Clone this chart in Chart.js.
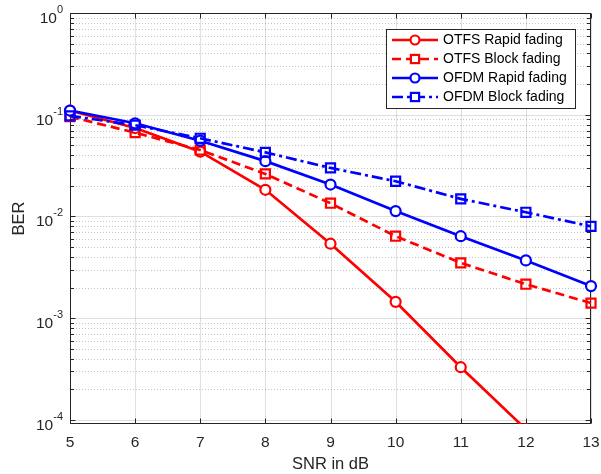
<!DOCTYPE html>
<html><head><meta charset="utf-8">
<script src="https://cdn.jsdelivr.net/npm/chart.js@4"></script>
<style>html,body{margin:0;padding:0;background:#fff}canvas{display:block}</style>
</head><body>
<canvas id="c" width="601" height="474"></canvas>
<script>
// ---- data ----
const snr = [5, 6, 7, 8, 9, 10, 11, 12, 13];
const otfsRapid = [0.110, 0.074, 0.0434, 0.0183, 0.0054, 0.00145, 0.00033, 0.000081];
const otfsBlock = [0.0957, 0.0667, 0.045, 0.0262, 0.0135, 0.0064, 0.0035, 0.00216, 0.00141];
const ofdmRapid = [0.110, 0.0824, 0.0556, 0.035, 0.0206, 0.0113, 0.0064, 0.0037, 0.00207];
const ofdmBlock = [0.0975, 0.079, 0.0587, 0.0427, 0.030, 0.0222, 0.0149, 0.011, 0.0080];
const seriesNames = ['OTFS Rapid fading', 'OTFS Block fading', 'OFDM Rapid fading', 'OFDM Block fading'];
const xTickValues = [5, 6, 7, 8, 9, 10, 11, 12, 13];
const yDecadeExponents = [0, -1, -2, -3, -4];
const xTitle = 'SNR in dB';
const yTitle = 'BER';

const RED = '#ff0000', BLUE = '#0000ff';
const toPts = arr => arr.map((v, i) => ({x: snr[i], y: v}));

const styles = [
  {color: RED, dash: [], point: 'circle', r: 5, fill: '#ffffff', order: 4},
  {color: RED, dash: [9, 5], point: 'rect', r: 6.4, fill: 'rgba(0,0,0,0)', order: 3},
  {color: BLUE, dash: [], point: 'circle', r: 5, fill: '#ffffff', order: 2},
  {color: BLUE, dash: [11, 4, 3, 4], point: 'rect', r: 6.4, fill: 'rgba(0,0,0,0)', order: 1}
];
const seriesData = [otfsRapid, otfsBlock, ofdmRapid, ofdmBlock];

const datasets = seriesData.map((arr, k) => ({
  label: seriesNames[k],
  data: toPts(arr),
  borderColor: styles[k].color,
  backgroundColor: styles[k].color,
  borderWidth: 2.7,
  borderDash: styles[k].dash,
  pointStyle: styles[k].point,
  pointRadius: styles[k].r,
  pointBorderWidth: 2.2,
  pointBorderColor: styles[k].color,
  pointBackgroundColor: styles[k].fill,
  tension: 0,
  order: styles[k].order,
  clip: {left: 12, right: 12, top: 12, bottom: k === 0 ? 0 : 12}
}));

const AX = '#262626';
const FONT = '"Liberation Sans", Arial, Helvetica, sans-serif';

const matlabAxes = {
  id: 'matlabAxes',
  beforeDatasetsDraw(chart) {
    const {ctx, chartArea: a, scales: {x, y}} = chart;
    ctx.save();
    ctx.lineWidth = 1;
    ctx.strokeStyle = 'rgba(38,38,38,0.15)';
    ctx.setLineDash([]);
    xTickValues.forEach(v => {
      const px = Math.round(x.getPixelForValue(v)) + 0.5;
      ctx.beginPath(); ctx.moveTo(px, a.top); ctx.lineTo(px, a.bottom); ctx.stroke();
    });
    ctx.strokeStyle = 'rgba(38,38,38,0.28)';
    ctx.setLineDash([1, 2]);
    yDecadeExponents.forEach(e => {
      for (let m = 2; m <= 9; m++) {
        const v = m * Math.pow(10, e);
        if (v > y.max || v < y.min) continue;
        const py = Math.round(y.getPixelForValue(v)) + 0.5;
        ctx.beginPath(); ctx.moveTo(a.left, py); ctx.lineTo(a.right, py); ctx.stroke();
      }
    });
    ctx.setLineDash([]);
    ctx.strokeStyle = 'rgba(38,38,38,0.15)';
    yDecadeExponents.forEach(e => {
      const py = Math.round(y.getPixelForValue(Math.pow(10, e))) + 0.5;
      ctx.beginPath(); ctx.moveTo(a.left, py); ctx.lineTo(a.right, py); ctx.stroke();
    });
    ctx.strokeStyle = AX;
    ctx.lineWidth = 1;
    const L = Math.round(a.left) + 0.5, R = Math.round(a.right) - 0.5;
    const T = Math.round(a.top) + 0.5, B = Math.round(a.bottom) - 0.5;
    ctx.strokeRect(L, T, R - L, B - T);
    xTickValues.forEach(v => {
      const px = Math.round(x.getPixelForValue(v)) + 0.5;
      ctx.beginPath();
      ctx.moveTo(px, B); ctx.lineTo(px, B - 5);
      ctx.moveTo(px, T); ctx.lineTo(px, T + 5);
      ctx.stroke();
    });
    yDecadeExponents.forEach(e => {
      for (let m = 1; m <= 9; m++) {
        const v = m * Math.pow(10, e);
        if (v > y.max || v < y.min) continue;
        const len = m === 1 ? 5 : 3.5;
        const py = Math.round(y.getPixelForValue(v)) + 0.5;
        ctx.beginPath();
        ctx.moveTo(L, py); ctx.lineTo(L + len, py);
        ctx.moveTo(R, py); ctx.lineTo(R - len, py);
        ctx.stroke();
      }
    });
    ctx.restore();
  },
  afterDatasetsDraw(chart) {
    const {ctx, chartArea: a, scales: {x, y}} = chart;
    ctx.save();
    ctx.fillStyle = AX;
    ctx.font = '15.5px ' + FONT;
    ctx.textAlign = 'center';
    ctx.textBaseline = 'middle';
    xTickValues.forEach(v => {
      ctx.fillText(String(v), x.getPixelForValue(v), a.bottom + 19);
    });
    yDecadeExponents.forEach(e => {
      const py = y.getPixelForValue(Math.pow(10, e));
      ctx.font = '11px ' + FONT;
      const sup = String(e);
      const sw = ctx.measureText(sup).width;
      const right = a.left - 7;
      ctx.textAlign = 'left';
      ctx.textBaseline = 'alphabetic';
      ctx.fillText(sup, right - sw, py + 0);
      ctx.font = '15.5px ' + FONT;
      const bw = ctx.measureText('10').width;
      ctx.fillText('10', right - sw - bw, py + 10);
    });
    ctx.font = '16.5px ' + FONT;
    ctx.textAlign = 'center';
    ctx.textBaseline = 'middle';
    ctx.fillText(xTitle, (a.left + a.right) / 2, a.bottom + 40);
    ctx.save();
    ctx.translate(19, (a.top + a.bottom) / 2);
    ctx.rotate(-Math.PI / 2);
    ctx.fillText(yTitle, 0, 0);
    ctx.restore();

    // legend
    const bx = 386.5, by = 29.5, bw2 = 189, bh = 79;
    ctx.fillStyle = '#ffffff';
    ctx.fillRect(bx, by, bw2, bh);
    ctx.strokeStyle = AX;
    ctx.lineWidth = 1;
    ctx.strokeRect(bx, by, bw2, bh);
    chart.data.datasets.forEach((ds, k) => {
      const cy = 40 + k * 19;
      ctx.strokeStyle = ds.borderColor;
      ctx.lineWidth = 2.7;
      ctx.setLineDash(ds.borderDash);
      ctx.beginPath(); ctx.moveTo(392, cy); ctx.lineTo(438, cy); ctx.stroke();
      ctx.setLineDash([]);
      ctx.lineWidth = 2.2;
      const mx = 415;
      if (ds.pointStyle === 'circle') {
        ctx.beginPath(); ctx.arc(mx, cy, ds.pointRadius - 0.5, 0, Math.PI * 2);
        ctx.fillStyle = ds.pointBackgroundColor; ctx.fill(); ctx.stroke();
      } else {
        const s = (ds.pointRadius - 0.6) * Math.SQRT1_2;
        ctx.fillStyle = '#ffffff';
        ctx.fillRect(mx - s, cy - s, 2 * s, 2 * s);
        ctx.strokeRect(mx - s, cy - s, 2 * s, 2 * s);
      }
      ctx.fillStyle = '#000000';
      ctx.font = '14px ' + FONT;
      ctx.textAlign = 'left';
      ctx.textBaseline = 'middle';
      ctx.fillText(ds.label, 443, cy + 0.5);
    });
    ctx.restore();
  }
};

new Chart(document.getElementById('c'), {
  type: 'line',
  data: {datasets},
  options: {
    responsive: false,
    animation: false,
    devicePixelRatio: 1,
    layout: {padding: {left: 70, top: 13, right: 10, bottom: 50}},
    plugins: {legend: {display: false}, tooltip: {enabled: false}},
    scales: {
      x: {type: 'linear', min: 5, max: 13, display: false},
      y: {type: 'logarithmic', min: 9.13e-5, max: 1, display: false}
    }
  },
  plugins: [matlabAxes]
});
</script>
</body></html>
